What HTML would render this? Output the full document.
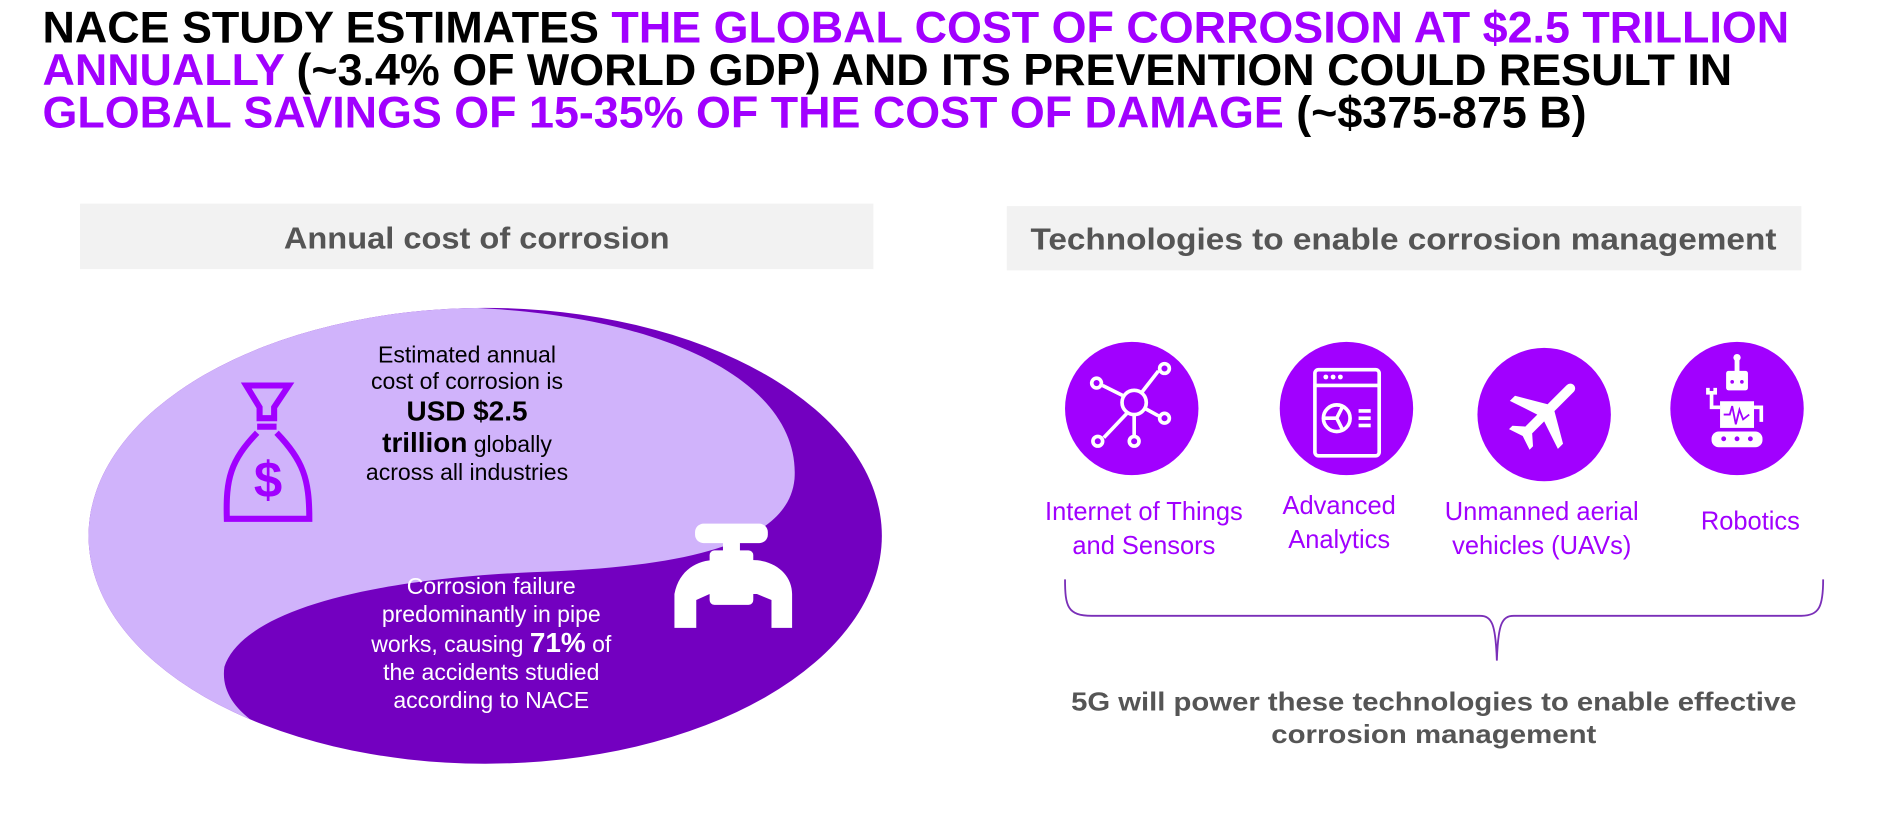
<!DOCTYPE html>
<html><head><meta charset="utf-8"><style>
html,body{margin:0;padding:0;background:#fff;}
svg{display:block;font-family:"Liberation Sans",sans-serif;}
</style></head><body>
<svg width="1902" height="834" viewBox="0 0 1568 688" preserveAspectRatio="none">
<defs><clipPath id="oc"><ellipse cx="400" cy="442" rx="327" ry="188"/></clipPath></defs>
<g font-weight="bold" font-size="37">
<text x="35" y="35" textLength="1440" lengthAdjust="spacingAndGlyphs"><tspan fill="#000">NACE STUDY ESTIMATES </tspan><tspan fill="#a100ff">THE GLOBAL COST OF CORROSION AT $2.5 TRILLION</tspan></text>
<text x="35" y="70" textLength="1393" lengthAdjust="spacingAndGlyphs"><tspan fill="#a100ff">ANNUALLY </tspan><tspan fill="#000">(~3.4% OF WORLD GDP) AND ITS PREVENTION COULD RESULT IN</tspan></text>
<text x="35" y="105" textLength="1273" lengthAdjust="spacingAndGlyphs"><tspan fill="#a100ff">GLOBAL SAVINGS OF 15-35% OF THE COST OF DAMAGE </tspan><tspan fill="#000">(~$375-875 B)</tspan></text>
</g>
<rect x="66" y="168" width="654" height="54" fill="#f2f2f2"/>
<text x="393" y="205" text-anchor="middle" font-size="25" font-weight="bold" fill="#555" textLength="318" lengthAdjust="spacingAndGlyphs">Annual cost of corrosion</text>
<rect x="830" y="170" width="655" height="53" fill="#f2f2f2"/>
<text x="1157" y="206" text-anchor="middle" font-size="25" font-weight="bold" fill="#555" textLength="615" lengthAdjust="spacingAndGlyphs">Technologies to enable corrosion management</text>
<g>
<ellipse cx="400" cy="442" rx="327" ry="188" fill="#7300c0"/>
<path clip-path="url(#oc)" fill="#d0b3fb" d="M0 0 L392 200 L392 254 C560 262 660 320 655 395 C650 450 560 468 440 472 C300 478 200 505 185 550 C178 600 260 620 330 650 L0 700 Z"/>
</g>
<g fill="none" stroke="#a100ff" stroke-width="5">
<path d="M203 318 L238 318 L226 336 L226 345 L214 345 L214 336 Z"/>
<path d="M212 352 L228 352 M212 357 C190 380 186 395 187 428 L255 428 C255 395 250 380 228 357"/>
<text x="221" y="410" text-anchor="middle" font-size="42" font-weight="bold" fill="#a100ff" stroke="none">$</text>
</g>
<g fill="#fff">
<rect x="573" y="432" width="60" height="16" rx="7"/>
<rect x="596" y="446" width="14" height="10"/>
<rect x="585" y="454" width="36" height="45" rx="4"/>
<path d="M556 518 L556 490 C560 470 575 462 590 462 L620 462 C640 462 653 475 653 490 L653 518 L636 518 L636 495 L624 490 L585 490 L574 495 L574 518 Z"/>
</g>
<g font-size="19" text-anchor="middle" fill="#000">
<text x="385" y="299">Estimated annual</text>
<text x="385" y="321">cost of corrosion is</text>
<text x="385" y="347" font-size="23" font-weight="bold">USD $2.5</text>
<text x="385" y="373"><tspan font-size="23" font-weight="bold">trillion</tspan> globally</text>
<text x="385" y="396">across all industries</text>
</g>
<g font-size="19" text-anchor="middle" fill="#fff">
<text x="405" y="490">Corrosion failure</text>
<text x="405" y="513">predominantly in pipe</text>
<text x="405" y="538">works, causing <tspan font-size="23" font-weight="bold">71%</tspan> of</text>
<text x="405" y="561">the accidents studied</text>
<text x="405" y="584">according to NACE</text>
</g>
<g>
<circle cx="933" cy="337" r="55" fill="#a100ff"/>
<g stroke="#fff" stroke-width="3" fill="none">
<circle cx="935" cy="332" r="10"/><line x1="927" y1="327" x2="909" y2="318"/><line x1="941" y1="324" x2="955" y2="306"/><line x1="944" y1="337" x2="955" y2="343"/><line x1="929" y1="341" x2="910" y2="361"/><line x1="935" y1="342" x2="935" y2="360"/>
<circle cx="904" cy="316" r="4"/><circle cx="960" cy="304" r="4"/><circle cx="960" cy="345" r="4"/><circle cx="905" cy="364" r="4"/><circle cx="935" cy="364" r="4"/>
</g></g>
<g>
<circle cx="1110" cy="337" r="55" fill="#a100ff"/>
<g stroke="#fff" stroke-width="3" fill="none">
<rect x="1084" y="305" width="53" height="71" rx="3"/><line x1="1084" y1="318" x2="1137" y2="318"/>
<circle cx="1102" cy="345" r="11"/><path d="M1102 345 L1091 345 M1102 345 L1107 335 M1102 345 L1107 355"/>
<line x1="1120" y1="339" x2="1130" y2="339"/><line x1="1120" y1="345" x2="1130" y2="345"/><line x1="1120" y1="351" x2="1130" y2="351"/>
</g>
<g fill="#fff"><circle cx="1093" cy="311" r="2"/><circle cx="1099" cy="311" r="2"/><circle cx="1105" cy="311" r="2"/></g></g>
<g>
<circle cx="1273" cy="342" r="55" fill="#a100ff"/>
<g transform="translate(1273 342) rotate(45)" fill="#fff">
<path d="M-4 -30 C-4 -36 4 -36 4 -30 L4 -8 L28 6 L28 12 L4 4 L4 18 L12 25 L12 29 L0 25 L-12 29 L-12 25 L-4 18 L-4 4 L-28 12 L-28 6 L-4 -8 Z"/>
</g>
</g>
<g>
<circle cx="1432" cy="337" r="55" fill="#a100ff"/>
<g fill="#fff"><rect x="1423" y="306" width="18" height="16" rx="2"/><rect x="1430" y="297" width="4" height="10"/><circle cx="1432" cy="295" r="3"/><rect x="1418" y="331" width="28" height="22"/><rect x="1411" y="356" width="42" height="13" rx="6"/></g>
<g fill="#a100ff"><circle cx="1428" cy="315" r="1.5"/><circle cx="1436" cy="315" r="1.5"/><circle cx="1421" cy="362" r="2"/><circle cx="1432" cy="362" r="2"/><circle cx="1443" cy="362" r="2"/></g>
<g stroke="#fff" stroke-width="3" fill="none"><path d="M1418 336 L1411 336 L1411 324"/><path d="M1446 336 L1452 336 L1452 348"/><path d="M1408 320 L1408 324 L1414 324 L1414 320"/></g>
<path d="M1421 342 L1426 342 L1428 335 L1431 350 L1434 338 L1437 346 L1442 342" stroke="#a100ff" stroke-width="1.5" fill="none"/>
</g>
<g font-size="21" fill="#a100ff" text-anchor="middle">
<text x="943" y="429">Internet of Things</text><text x="943" y="457">and Sensors</text>
<text x="1104" y="424">Advanced</text><text x="1104" y="452">Analytics</text>
<text x="1271" y="429">Unmanned aerial</text><text x="1271" y="457">vehicles (UAVs)</text>
<text x="1443" y="437">Robotics</text>
</g>
<path fill="none" stroke="#7a2fb8" stroke-width="1.5" d="M878 478 C878 500 880 508 900 508 L1220 508 C1230 508 1233 515 1234 545 C1235 515 1238 508 1248 508 L1485 508 C1500 508 1503 500 1503 478"/>
<g font-size="21" font-weight="bold" fill="#555" text-anchor="middle">
<text x="1182" y="586" textLength="598" lengthAdjust="spacingAndGlyphs">5G will power these technologies to enable effective</text>
<text x="1182" y="613" textLength="268" lengthAdjust="spacingAndGlyphs">corrosion management</text>
</g>
</svg>
</body></html>
